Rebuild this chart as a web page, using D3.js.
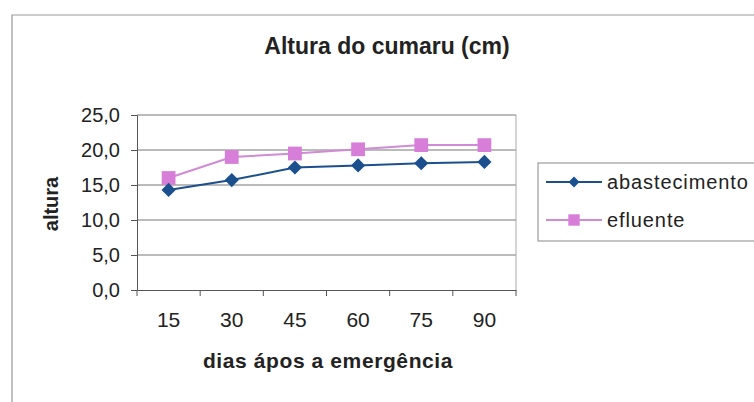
<!DOCTYPE html>
<html><head><meta charset="utf-8">
<script src="https://cdn.jsdelivr.net/npm/d3@7"></script>
<style>body{margin:0;background:#fff}svg{display:block}text{font-family:"Liberation Sans",Arial,sans-serif;fill:#222}</style>
</head><body>
<script>
const categories = ["15","30","45","60","75","90"];
const abastecimento = [14.3,15.7,17.5,17.8,18.1,18.3];
const efluente = [16.0,19.0,19.5,20.1,20.7,20.7];
const yTicks = [0,5,10,15,20,25];
const seriesNames = ["abastecimento","efluente"];

const W=754,H=402;
const svg=d3.select("body").append("svg").attr("width",W).attr("height",H);
svg.append("rect").attr("width",W).attr("height",H).attr("fill","#fff");
// chart frame
svg.append("path").attr("d","M12,402V15H754").attr("fill","none").attr("stroke","#999").attr("stroke-width",1.2);

const L=137,R=516,T=115,B=290;
const x=d3.scaleBand().domain(categories).range([L,R]);
const y=d3.scaleLinear().domain([0,25]).range([B,T]);

// gridlines
svg.append("g").selectAll("line").data(yTicks.slice(1)).join("line")
 .attr("x1",L).attr("x2",R).attr("y1",d=>y(d)).attr("y2",d=>y(d)).attr("stroke","#777").attr("stroke-width",1);
svg.append("line").attr("x1",R).attr("x2",R).attr("y1",T).attr("y2",B).attr("stroke","#aaa");

// y axis
const ya=svg.append("g").attr("transform",`translate(${L},0)`)
 .call(d3.axisLeft(y).tickValues(yTicks).tickSize(6).tickPadding(11).tickFormat(d=>d3.format(".1f")(d).replace(".",",")));
ya.select(".domain").attr("stroke","#555");
ya.selectAll(".tick line").attr("stroke","#555");
ya.selectAll("text").attr("font-size",20).style("fill","#222").attr("font-family","Liberation Sans, Arial, sans-serif");

// x axis
const xa=svg.append("g").attr("transform",`translate(0,${B})`)
 .call(d3.axisBottom(x).tickSize(0).tickPadding(22));
xa.select(".domain").attr("stroke","#555");
xa.selectAll("text").attr("font-size",21).style("fill","#222").attr("font-family","Liberation Sans, Arial, sans-serif");
const bounds=categories.map(c=>x(c)).concat([R]);
xa.selectAll(".tk").data(bounds).join("line").attr("class","tk")
 .attr("x1",d=>d).attr("x2",d=>d).attr("y1",0).attr("y2",6).attr("stroke","#555");

const blue="#1b4f8e", pinkLine="#d08ad6", pinkMark="#d77fd8";
const cx=c=>x(c)+x.bandwidth()/2;
const line=d3.line().x((d,i)=>cx(categories[i])).y(d=>y(d));

svg.append("path").datum(efluente).attr("d",line).attr("fill","none").attr("stroke",pinkLine).attr("stroke-width",2);
svg.append("path").datum(abastecimento).attr("d",line).attr("fill","none").attr("stroke",blue).attr("stroke-width",2);

const sq=d3.symbol().type(d3.symbolSquare).size(190);
const dm=d3.symbol().type(d3.symbolSquare).size(100);
svg.append("g").selectAll("path").data(efluente).join("path")
 .attr("d",sq).attr("transform",(d,i)=>`translate(${cx(categories[i])},${y(d)})`).attr("fill",pinkMark);
svg.append("g").selectAll("path").data(abastecimento).join("path")
 .attr("d",dm).attr("transform",(d,i)=>`translate(${cx(categories[i])},${y(d)}) rotate(45)`).attr("fill",blue);

// titles
svg.append("text").attr("x",387).attr("y",54).attr("text-anchor","middle").attr("font-size",23).attr("font-weight","bold").text("Altura do cumaru (cm)");
svg.append("text").attr("x",328).attr("y",368).attr("text-anchor","middle").attr("font-size",21).attr("font-weight","bold").attr("letter-spacing",0.6).text("dias ápos a emergência");
svg.append("text").attr("transform","translate(58,204) rotate(-90)").attr("text-anchor","middle").attr("font-size",20).attr("font-weight","bold").text("altura");

// legend
const lg=svg.append("g");
lg.append("rect").attr("x",538).attr("y",163).attr("width",230).attr("height",78).attr("fill","#fff").attr("stroke","#888");
const ly=[182,220];
const cols=[blue,pinkLine], mcols=[blue,pinkMark];
const syms=[d3.symbol().type(d3.symbolSquare).size(60),d3.symbol().type(d3.symbolSquare).size(130)];
const rots=[45,0];
seriesNames.forEach((n,i)=>{
  lg.append("line").attr("x1",546).attr("x2",602).attr("y1",ly[i]).attr("y2",ly[i]).attr("stroke",cols[i]).attr("stroke-width",2);
  lg.append("path").attr("d",syms[i]).attr("transform",`translate(574,${ly[i]}) rotate(${rots[i]})`).attr("fill",mcols[i]);
  lg.append("text").attr("x",607).attr("y",ly[i]+7).attr("font-size",20).attr("letter-spacing",0.9).text(n);
});
</script>
</body></html>
